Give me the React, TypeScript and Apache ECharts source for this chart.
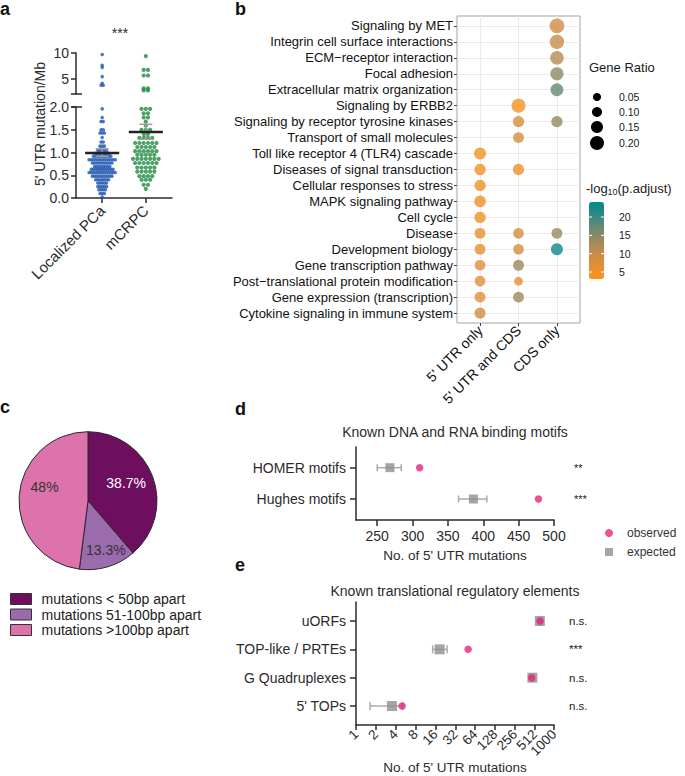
import React, { useEffect, useRef } from 'react';
import * as echarts from 'echarts';

const FONT = '"Liberation Sans", Arial, Helvetica, sans-serif';
const INK = '#2b2b2b';

// ---------- Panel a : 5' UTR mutation/Mb ----------
const aCategories = ['Localized PCa', 'mCRPC'];
// [value, number of samples drawn at that value]
const locUpperRows = [[9.7, 1], [7.6, 1], [7.2, 1], [5.4, 1], [4.1, 1], [3.7, 2]];
const locLowerRows = [[1.96, 1], [1.77, 1], [1.68, 2], [1.5, 2], [1.43, 3], [1.33, 1], [1.23, 2], [1.14, 3], [1.05, 5], [0.98, 7], [0.92, 9], [0.84, 13], [0.77, 10], [0.69, 8], [0.63, 11], [0.56, 13], [0.48, 10], [0.4, 7], [0.33, 5], [0.25, 5], [0.18, 4], [0.1, 3], [0.02, 1]];
const mcUpperRows = [[9.4, 1], [6.7, 2], [5.6, 2], [3.1, 2], [2.7, 2]];
const mcLowerRows = [[1.96, 3], [1.86, 2], [1.77, 2], [1.68, 1], [1.59, 1], [1.5, 3], [1.41, 2], [1.32, 4], [1.21, 6], [1.12, 5], [1.03, 6], [0.95, 5], [0.86, 7], [0.77, 6], [0.67, 5], [0.58, 5], [0.48, 4], [0.4, 3], [0.29, 2], [0.2, 1]];
const aMean = [0.99, 1.45];
const aSemLow = [0.92, 1.29];
const aSemHigh = [1.08, 1.62];
const aUpperTicks = [5, 10];

// ---------- Panel b : enrichment dot plot ----------
const bCategories = [
  'Signaling by MET', 'Integrin cell surface interactions', 'ECM\u2212receptor interaction', 'Focal adhesion',
  'Extracellular matrix organization', 'Signaling by ERBB2', 'Signaling by receptor tyrosine kinases',
  'Transport of small molecules', 'Toll like receptor 4 (TLR4) cascade', 'Diseases of signal transduction',
  'Cellular responses to stress', 'MAPK signaling pathway', 'Cell cycle', 'Disease', 'Development biology',
  'Gene transcription pathway', 'Post\u2212translational protein modification', 'Gene expression (transcription)',
  'Cytokine signaling in immune system',
];
const bColumns = ["5' UTR only", "5' UTR and CDS", 'CDS only'];
const utrOnlyRows = [8, 9, 10, 11, 12, 13, 14, 15, 16, 17, 18];
const utrOnlyRatio = [0.15, 0.13, 0.13, 0.14, 0.13, 0.12, 0.12, 0.115, 0.115, 0.12, 0.125];
const utrOnlyLogP = [4, 4.5, 5, 4.5, 5, 6, 6, 7, 7, 7, 9];
const bothRows = [5, 6, 7, 9, 13, 14, 15, 16, 17];
const bothRatio = [0.2, 0.13, 0.12, 0.13, 0.115, 0.115, 0.12, 0.065, 0.12];
const bothLogP = [4, 8.5, 8.5, 5, 8.5, 8.5, 14, 6, 13.5];
const cdsRows = [0, 1, 2, 3, 4, 6, 13, 14];
const cdsRatio = [0.22, 0.21, 0.19, 0.18, 0.17, 0.13, 0.12, 0.15];
const cdsLogP = [9, 10, 11.5, 14.5, 17.5, 14, 14, 23];
const geneRatioLegend = [0.05, 0.1, 0.15, 0.2];
const logPLegend = [5, 10, 15, 20];
const logPMin = 3.1;
const logPMax = 24.1;
const logPColors = ['#F8931C', '#E58F33', '#C58C4B', '#9C8A5F', '#6B8A73', '#2E8A84', '#008A8B'];

// ---------- Panel c : pie ----------
const pieNames = ['mutations < 50bp apart', 'mutations 51-100bp apart', 'mutations >100bp apart'];
const pieValues = [38.7, 13.3, 48];
const pieColors = ['#6E0E5E', '#9B6BAD', '#DC73AC'];
const pieLabelColors = ['#ffffff', '#333333', '#333333'];
const pieLabelShift = [[3, -5], [7, 13], [-6, -11]];

// ---------- Panel d : Known DNA and RNA binding motifs ----------
const dCategories = ['HOMER motifs', 'Hughes motifs'];
const dObserved = [310, 478];
const dExpected = [268, 386];
const dExpLow = [250, 365];
const dExpHigh = [284, 405];
const dSig = ['**', '***'];
const dTicks = [250, 300, 350, 400, 450, 500];

// ---------- Panel e : Known translational regulatory elements ----------
const eCategories = ['uORFs', 'TOP-like / PRTEs', 'G Quadruplexes', "5' TOPs"];
const eObserved = [615, 50, 458, 5];
const eExpected = [610, 18.5, 470, 3.5];
const eExpLow = [575, 14.5, 440, 1.63];
const eExpHigh = [650, 24, 500, 5.1];
const eSig = ['n.s.', '***', 'n.s.', 'n.s.'];
const eTickLabels = [1, 2, 4, 8, 16, 32, 64, 128, 256, 512];
const eMaxLabel = 1000;

const sizeOf = (r: number) => 6.2 + 39 * r;

function swarm(rows: number[][], center: number, step: number) {
  const pts: number[][] = [];
  rows.forEach(([v, n]) => {
    for (let i = 0; i < n; i++) pts.push([center + (i - (n - 1) / 2) * step, v]);
  });
  return pts;
}

function errRender(capH: number, color: string) {
  return (params: any, api: any) => {
    const row = api.value(0);
    const p1 = api.coord([api.value(1), row]);
    const p2 = api.coord([api.value(2), row]);
    const st = { stroke: color, lineWidth: 1.5 };
    return {
      type: 'group',
      children: [
        { type: 'line', shape: { x1: p1[0], y1: p1[1], x2: p2[0], y2: p2[1] }, style: st },
        { type: 'line', shape: { x1: p1[0], y1: p1[1] - capH, x2: p1[0], y2: p1[1] + capH }, style: st },
        { type: 'line', shape: { x1: p2[0], y1: p2[1] - capH, x2: p2[0], y2: p2[1] + capH }, style: st },
      ],
    };
  };
}

function sigRender(labels: string[], dist: number, size: number) {
  return (params: any, api: any) => {
    const p = api.coord([api.value(0), api.value(1)]);
    return {
      type: 'text',
      x: p[0] + dist,
      y: p[1],
      style: {
        text: labels[params.dataIndex],
        fill: '#222',
        font: `${size}px ${FONT}`,
        textAlign: 'left',
        textVerticalAlign: 'middle',
      },
    };
  };
}

function txt(text: string, x: number, y: number, size: number, opts: any = {}) {
  return {
    type: 'text',
    x: opts.px ?? 0,
    y: opts.py ?? 0,
    rotation: opts.rotation ?? 0,
    silent: true,
    style: {
      text,
      x: opts.rotation ? 0 : x,
      y: opts.rotation ? 0 : y,
      font: `${opts.bold ? 'bold ' : ''}${size}px ${FONT}`,
      fill: opts.color ?? INK,
      textAlign: opts.align ?? 'left',
      textVerticalAlign: 'middle',
    },
  };
}

function buildOption() {
  const axisLineStyle = { color: INK, width: 1.5 };
  const noLine = { show: false };

  const bData: any[] = [];
  utrOnlyRows.forEach((r, i) => bData.push([0, r, utrOnlyRatio[i], utrOnlyLogP[i]]));
  bothRows.forEach((r, i) => bData.push([1, r, bothRatio[i], bothLogP[i]]));
  cdsRows.forEach((r, i) => bData.push([2, r, cdsRatio[i], cdsLogP[i]]));

  const cbTop = 202;
  const cbHeight = 77;
  const cbY = (v: number) => cbTop + cbHeight - ((v - logPMin) / (logPMax - logPMin)) * cbHeight;
  const legendYs = [97, 112, 127, 143];

  const graphic: any[] = [
    txt('a', 0, 8.5, 18, { bold: true, color: '#111' }),
    txt('b', 235, 8.7, 18, { bold: true, color: '#111' }),
    txt('c', 0, 406.7, 18, { bold: true, color: '#111' }),
    txt('d', 235, 408.7, 18, { bold: true, color: '#111' }),
    txt('e', 235, 564.7, 18, { bold: true, color: '#111' }),
    txt('***', 120, 33, 14, { align: 'center' }),
    txt("5' UTR mutation/Mb", 0, 0, 14, { align: 'center', rotation: Math.PI / 2, px: 40, py: 124 }),
    { type: 'line', silent: true, shape: { x1: 71, y1: 94, x2: 82, y2: 94 }, style: { stroke: INK, lineWidth: 1.5 } },
    { type: 'line', silent: true, shape: { x1: 71, y1: 107, x2: 82, y2: 107 }, style: { stroke: INK, lineWidth: 1.5 } },
    txt('Gene Ratio', 589, 67, 13, { color: '#1a1a1a' }),
    txt('-log', 586, 188, 13, { color: '#1a1a1a' }),
    txt('10', 607.5, 192, 9, { color: '#1a1a1a' }),
    txt('(p.adjust)', 617.5, 188, 13, { color: '#1a1a1a' }),
    txt('Known DNA and RNA binding motifs', 455, 432, 14, { align: 'center' }),
    txt('No. of 5\' UTR mutations', 455, 555, 13.5, { align: 'center' }),
    txt('Known translational regulatory elements', 455, 591, 14, { align: 'center' }),
    txt('No. of 5\' UTR mutations', 455, 767.5, 13.5, { align: 'center' }),
  ];
  geneRatioLegend.forEach((g, i) => {
    graphic.push({ type: 'circle', silent: true, shape: { cx: 597, cy: legendYs[i], r: sizeOf(g) / 2 }, style: { fill: '#000' } });
    graphic.push(txt(g.toFixed(2), 619, legendYs[i], 10.5, { color: '#1a1a1a' }));
  });
  logPLegend.forEach((v) => {
    const y = cbY(v);
    graphic.push(txt(String(v), 619, y, 10.5, { color: '#1a1a1a' }));
    graphic.push({ type: 'line', silent: true, z: 100, shape: { x1: 589, y1: y, x2: 592, y2: y }, style: { stroke: '#fff', lineWidth: 1 } });
    graphic.push({ type: 'line', silent: true, z: 100, shape: { x1: 601, y1: y, x2: 604, y2: y }, style: { stroke: '#fff', lineWidth: 1 } });
  });

  const dRows = dCategories.map((_, i) => i);
  const eRows = eCategories.map((_, i) => i);
  const eLogMax = Math.log2(eMaxLabel);
  const eTickVals = eTickLabels.map((t) => Math.log2(t));

  return {
    animation: false,
    textStyle: { fontFamily: FONT },
    grid: [
      { left: 76, top: 53, width: 96, height: 41 },
      { left: 76, top: 107, width: 96, height: 91 },
      { left: 457, top: 16, width: 123, height: 307, show: true, borderColor: '#a3a3a3', borderWidth: 1 },
      { left: 356, top: 447, width: 198, height: 73 },
      { left: 356, top: 602, width: 198, height: 123 },
    ],
    xAxis: [
      { gridIndex: 0, type: 'value', min: -0.6, max: 1.6, show: false },
      {
        gridIndex: 1, type: 'value', min: -0.6, max: 1.6,
        axisLine: { show: true, onZero: false, lineStyle: axisLineStyle },
        axisTick: { show: true, length: 5, customValues: [0, 1], lineStyle: axisLineStyle },
        axisLabel: { customValues: [0, 1], formatter: (v: number) => aCategories[Math.round(v)], rotate: 45, fontSize: 15, color: INK, margin: 10 },
        splitLine: noLine,
      },
      {
        gridIndex: 2, type: 'value', min: -0.6, max: 2.6,
        axisLine: { show: false, onZero: false },
        axisTick: { show: true, length: 3, customValues: [0, 1, 2], lineStyle: { color: '#444' } },
        axisLabel: { customValues: [0, 1, 2], formatter: (v: number) => bColumns[Math.round(v)], rotate: 45, fontSize: 14, color: '#111', margin: 5 },
        splitLine: { show: true, lineStyle: { color: '#ebebeb', width: 1 } },
      },
      {
        gridIndex: 3, type: 'value', min: 220, max: 500,
        axisLine: { show: true, onZero: false, lineStyle: axisLineStyle },
        axisTick: { show: true, length: 6, customValues: dTicks, lineStyle: axisLineStyle },
        axisLabel: { customValues: dTicks, fontSize: 14, color: INK, margin: 9, showMaxLabel: true, showMinLabel: true },
        splitLine: noLine,
      },
      {
        gridIndex: 4, type: 'value', min: 0, max: eLogMax, position: 'bottom',
        axisLine: { show: true, onZero: false, lineStyle: axisLineStyle },
        axisTick: { show: true, length: 5, customValues: eTickVals.concat([eLogMax]), lineStyle: axisLineStyle },
        axisLabel: {
          customValues: eTickVals,
          formatter: (v: number) => String(Math.round(Math.pow(2, v))),
          rotate: 45, fontSize: 13.5, color: INK, margin: 7,
          showMaxLabel: true, showMinLabel: true, hideOverlap: false,
        },
        splitLine: noLine,
      },
      {
        gridIndex: 4, type: 'value', min: 0, max: eLogMax, position: 'bottom', offset: 0,
        axisLine: { show: false, onZero: false },
        axisTick: { show: false },
        axisLabel: {
          customValues: [eLogMax], formatter: () => String(eMaxLabel),
          rotate: 45, fontSize: 13.5, color: INK, margin: 7, showMaxLabel: true,
        },
        splitLine: noLine,
      },
    ],
    yAxis: [
      {
        gridIndex: 0, type: 'value', min: 2, max: 10,
        axisLine: { show: true, onZero: false, lineStyle: axisLineStyle },
        axisTick: { show: true, length: 5, customValues: aUpperTicks, lineStyle: axisLineStyle },
        axisLabel: { customValues: aUpperTicks, fontSize: 14, color: INK, margin: 7, showMaxLabel: true },
        splitLine: noLine,
      },
      {
        gridIndex: 1, type: 'value', min: 0, max: 2, interval: 0.5,
        axisLine: { show: true, onZero: false, lineStyle: axisLineStyle },
        axisTick: { show: true, length: 5, lineStyle: axisLineStyle },
        axisLabel: { formatter: (v: number) => v.toFixed(1), fontSize: 14, color: INK, margin: 7 },
        splitLine: noLine,
      },
      {
        gridIndex: 2, type: 'value', min: -0.62, max: 18.62, inverse: true,
        axisLine: { show: false, onZero: false },
        axisTick: { show: true, length: 3, customValues: bCategories.map((_, i) => i), lineStyle: { color: '#444' } },
        axisLabel: { customValues: bCategories.map((_, i) => i), formatter: (v: number) => bCategories[Math.round(v)], fontSize: 13, color: '#111', margin: 4 },
        splitLine: { show: true, lineStyle: { color: '#ebebeb', width: 1 } },
      },
      {
        gridIndex: 3, type: 'value', min: -0.66, max: 1.67, inverse: true,
        axisLine: { show: true, onZero: false, lineStyle: axisLineStyle },
        axisTick: { show: true, length: 6, customValues: dRows, lineStyle: axisLineStyle },
        axisLabel: { customValues: dRows, formatter: (v: number) => dCategories[Math.round(v)], fontSize: 14, color: INK, margin: 10 },
        splitLine: noLine,
      },
      {
        gridIndex: 4, type: 'value', min: -0.67, max: 3.67, inverse: true,
        axisLine: { show: true, onZero: false, lineStyle: axisLineStyle },
        axisTick: { show: true, length: 6, customValues: eRows, lineStyle: axisLineStyle },
        axisLabel: { customValues: eRows, formatter: (v: number) => eCategories[Math.round(v)], fontSize: 14, color: INK, margin: 10 },
        splitLine: noLine,
      },
    ],
    visualMap: [
      {
        type: 'continuous', seriesIndex: 5, dimension: 3, min: logPMin, max: logPMax,
        inRange: { color: logPColors }, left: 584, top: cbTop - 5, padding: 5,
        itemWidth: 15, itemHeight: cbHeight, calculable: false, hoverLink: false, text: null,
      },
    ],
    legend: [
      {
        data: pieNames, orient: 'vertical', left: 10, top: 592, padding: 0,
        itemWidth: 21, itemHeight: 11, itemGap: 1.5, icon: 'rect', selectedMode: false,
        itemStyle: { borderColor: '#333', borderWidth: 1 },
        textStyle: { fontSize: 14, color: '#222', fontFamily: FONT, padding: [0, 0, 0, 5] },
      },
      {
        data: [{ name: 'observed', icon: 'circle' }, { name: 'expected', icon: 'rect' }],
        orient: 'vertical', left: 605, top: 527, padding: 0,
        itemWidth: 8, itemHeight: 8, itemGap: 7, selectedMode: false,
        textStyle: { fontSize: 12, color: '#333', fontFamily: FONT, padding: [0, 0, 0, 9] },
      },
    ],
    graphic,
    series: [
      { type: 'scatter', xAxisIndex: 0, yAxisIndex: 0, data: swarm(locUpperRows, 0, 0.05), symbolSize: 3.6, itemStyle: { color: '#2058AE' }, silent: true },
      { type: 'scatter', xAxisIndex: 0, yAxisIndex: 0, data: swarm(mcUpperRows, 1, 0.098), symbolSize: 4.2, itemStyle: { color: '#1F8A40' }, silent: true },
      { type: 'scatter', xAxisIndex: 1, yAxisIndex: 1, data: swarm(locLowerRows, 0, 0.05), symbolSize: 3.6, itemStyle: { color: '#2058AE' }, silent: true },
      { type: 'scatter', xAxisIndex: 1, yAxisIndex: 1, data: swarm(mcLowerRows, 1, 0.098), symbolSize: 4.2, itemStyle: { color: '#1F8A40' }, silent: true },
      {
        type: 'custom', xAxisIndex: 1, yAxisIndex: 1, z: 5, silent: true,
        data: aCategories.map((_, i) => [i, aMean[i], aSemLow[i], aSemHigh[i]]),
        encode: { x: 0, y: [1, 2, 3] },
        renderItem: (params: any, api: any) => {
          const c = api.value(0);
          const m = api.value(1);
          const pm1 = api.coord([c - 0.39, m]);
          const pm2 = api.coord([c + 0.39, m]);
          const pl = api.coord([c, api.value(2)]);
          const ph = api.coord([c, api.value(3)]);
          const cap = 6.5;
          const gray = { stroke: '#a0a0a0', lineWidth: 1.5 };
          return {
            type: 'group',
            children: [
              { type: 'line', shape: { x1: pl[0], y1: pl[1], x2: ph[0], y2: ph[1] }, style: gray },
              { type: 'line', shape: { x1: pl[0] - cap, y1: pl[1], x2: pl[0] + cap, y2: pl[1] }, style: gray },
              { type: 'line', shape: { x1: ph[0] - cap, y1: ph[1], x2: ph[0] + cap, y2: ph[1] }, style: gray },
              { type: 'line', shape: { x1: pm1[0], y1: pm1[1], x2: pm2[0], y2: pm2[1] }, style: { stroke: '#222', lineWidth: 2.6 } },
            ],
          };
        },
      },
      {
        type: 'scatter', xAxisIndex: 2, yAxisIndex: 2, data: bData, silent: true,
        symbolSize: (v: number[]) => sizeOf(v[2]),
      },
      {
        type: 'pie', center: [88, 500.7], radius: 69, startAngle: 90, clockwise: true, silent: true,
        data: pieNames.map((n, i) => ({ name: n, value: pieValues[i], itemStyle: { color: pieColors[i] }, label: { color: pieLabelColors[i] } })),
        itemStyle: { borderColor: '#2a2a2a', borderWidth: 1 },
        label: { show: true, position: 'inside', formatter: '{c}%', fontSize: 14, fontFamily: FONT },
        labelLine: { show: false },
        labelLayout: (p: any) => ({ dx: pieLabelShift[p.dataIndex][0], dy: pieLabelShift[p.dataIndex][1] }),
        emphasis: { disabled: true },
      },
      {
        type: 'custom', name: 'd-err', xAxisIndex: 3, yAxisIndex: 3, silent: true,
        data: dRows.map((r) => [r, dExpLow[r], dExpHigh[r]]), encode: { x: [1, 2], y: 0 },
        renderItem: errRender(3.5, '#ababab'),
      },
      { type: 'scatter', name: 'expected', xAxisIndex: 3, yAxisIndex: 3, symbol: 'rect', symbolSize: 9, itemStyle: { color: '#8e8e8e' }, data: dRows.map((r) => [dExpected[r], r]), silent: true },
      { type: 'scatter', name: 'observed', xAxisIndex: 3, yAxisIndex: 3, symbol: 'circle', symbolSize: 7.5, itemStyle: { color: '#E8267A' }, data: dRows.map((r) => [dObserved[r], r]), silent: true },
      {
        type: 'custom', name: 'd-sig', xAxisIndex: 3, yAxisIndex: 3, silent: true,
        data: dRows.map((r) => [500, r]), encode: { x: 0, y: 1 },
        renderItem: sigRender(dSig, 20, 11),
      },
      {
        type: 'custom', name: 'e-err', xAxisIndex: 4, yAxisIndex: 4, silent: true,
        data: eRows.map((r) => [r, Math.log2(eExpLow[r]), Math.log2(eExpHigh[r])]), encode: { x: [1, 2], y: 0 },
        renderItem: errRender(4, '#ababab'),
      },
      { type: 'scatter', name: 'expected', xAxisIndex: 4, yAxisIndex: 4, symbol: 'rect', symbolSize: 10, itemStyle: { color: '#8e8e8e' }, data: eRows.map((r) => [Math.log2(eExpected[r]), r]), silent: true },
      { type: 'scatter', name: 'observed', xAxisIndex: 4, yAxisIndex: 4, symbol: 'circle', symbolSize: 7.5, itemStyle: { color: '#E8267A' }, data: eRows.map((r) => [Math.log2(eObserved[r]), r]), silent: true },
      {
        type: 'custom', name: 'e-sig', xAxisIndex: 4, yAxisIndex: 4, silent: true,
        data: eRows.map((r) => [eLogMax, r]), encode: { x: 0, y: 1 },
        renderItem: sigRender(eSig, 15, 11.5),
      },
    ],
  };
}

export default function App() {
  const ref = useRef<HTMLDivElement>(null);
  useEffect(() => {
    document.body.style.margin = '0';
    const chart = echarts.init(ref.current as HTMLDivElement, null, { renderer: 'svg' });
    chart.setOption(buildOption() as any);
    return () => chart.dispose();
  }, []);
  return <div ref={ref} style={{ width: 685, height: 776, background: '#fff' }} />;
}
